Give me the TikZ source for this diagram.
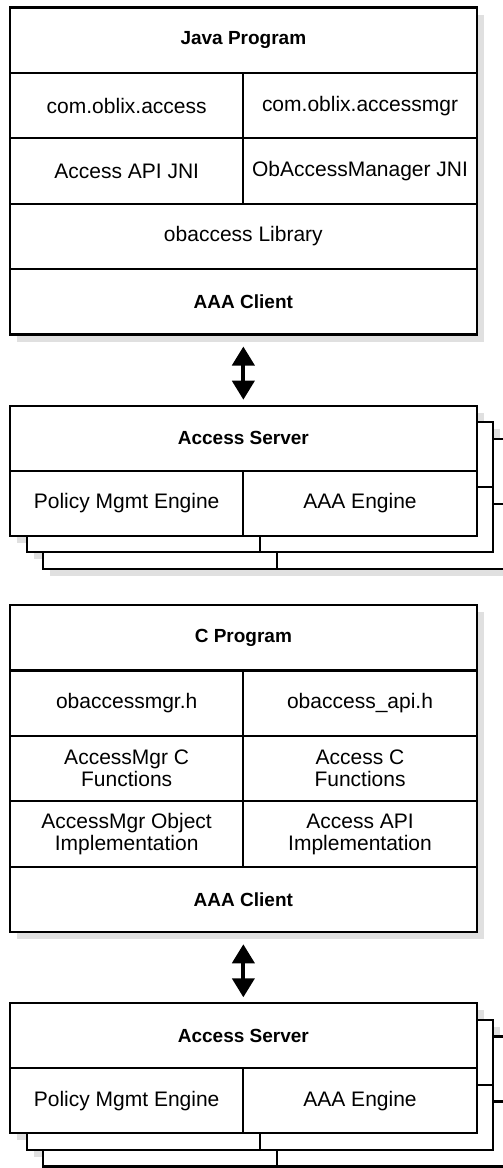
\documentclass[tikz,border=0pt]{standalone}
\usepackage{fontspec}
\setmainfont{Liberation Sans}
\usetikzlibrary{arrows.meta,calc}
\tikzset{
  cell/.style={draw, line width=2.1pt, fill=white, inner sep=0pt, outer sep=0pt,
    anchor=north west, align=center, font=\fontsize{21}{22}\selectfont},
  title/.style={cell, font=\fontsize{19}{22}\selectfont\bfseries},
  shadow/.style={fill=black!12, draw=none},
  bigarrow/.style={line width=4pt,
    {Triangle[width=22pt,length=19pt]}-{Triangle[width=22pt,length=19pt]}},
}
\newcommand\serverstack[2]{%
  \foreach \k in {2,1,0}{\fill[shadow] ({17+16.7*\k},{#2+7+16.6*\k}) rectangle ++(466.7,130);}
  \foreach \k in {2,1}{%
    \node[cell, minimum width=466.7pt, minimum height=65pt] (#1t\k) at ({10+16.7*\k},{#2+16.6*\k}) {};
    \node[cell, minimum width=233.35pt, minimum height=65pt] (#1l\k) at (#1t\k.south west) {};
    \node[cell, minimum width=233.35pt, minimum height=65pt] (#1r\k) at (#1t\k.south) {};
  }
  \node[title, minimum width=466.7pt, minimum height=65pt] (#1t) at (10,#2) {Access Server};
  \node[cell, minimum width=233.35pt, minimum height=65pt] (#1l) at (#1t.south west) {Policy Mgmt Engine};
  \node[cell, minimum width=233.35pt, minimum height=65pt] (#1r) at (#1t.south) {AAA Engine};
}
\begin{document}
\begin{tikzpicture}[x=1pt, y=-1pt]
\useasboundingbox (0,0) rectangle (503,1168);
\clip (0,0) rectangle (503,1168);

% Java program stack
\fill[shadow] (17,14.5) rectangle ++(466.7,327);
\node[title, minimum width=466.7pt, minimum height=65.4pt] (jprog) at (10,7.5) {Java Program};
\node[cell, minimum width=233.35pt, minimum height=65.4pt] (jacc) at (jprog.south west) {com.oblix.access};
\node[cell, minimum width=233.35pt, minimum height=65.4pt] (jmgr) at (jprog.south) {com.oblix.accessmgr};
\node[cell, minimum width=233.35pt, minimum height=65.4pt] (japi) at (jacc.south west) {Access API JNI};
\node[cell, minimum width=233.35pt, minimum height=65.4pt] (jobm) at (jmgr.south west) {ObAccessManager JNI};
\node[cell, minimum width=466.7pt, minimum height=65.4pt] (jlib) at (japi.south west) {obaccess Library};
\node[title, minimum width=466.7pt, minimum height=65.4pt] (jaaa) at (jlib.south west) {AAA Client};

% Access server 1
\serverstack{sa}{405.7}

% C program stack
\fill[shadow] (17,612) rectangle ++(466.7,327.3);
\node[title, minimum width=466.7pt, minimum height=65.45pt] (cprog) at (10,605) {C Program};
\node[cell, minimum width=233.35pt, minimum height=65.45pt] (cmgrh) at (cprog.south west) {obaccessmgr.h};
\node[cell, minimum width=233.35pt, minimum height=65.45pt] (capih) at (cprog.south) {obaccess\_api.h};
\node[cell, minimum width=233.35pt, minimum height=65.45pt] (cmgrf) at (cmgrh.south west) {AccessMgr C\\Functions};
\node[cell, minimum width=233.35pt, minimum height=65.45pt] (caccf) at (capih.south west) {Access C\\Functions};
\node[cell, minimum width=233.35pt, minimum height=65.45pt] (cmgro) at (cmgrf.south west) {AccessMgr Object\\Implementation};
\node[cell, minimum width=233.35pt, minimum height=65.45pt] (capii) at (caccf.south west) {Access API\\Implementation};
\node[title, minimum width=466.7pt, minimum height=65.45pt] (caaa) at (cmgro.south west) {AAA Client};

% Access server 2
\serverstack{sb}{1003.3}

% connectors
\draw[bigarrow] ([yshift=-12pt]jaaa.south) -- ([yshift=6pt]sat.north);
\draw[bigarrow] ([yshift=-12pt]caaa.south) -- ([yshift=6pt]sbt.north);
\end{tikzpicture}
\end{document}
